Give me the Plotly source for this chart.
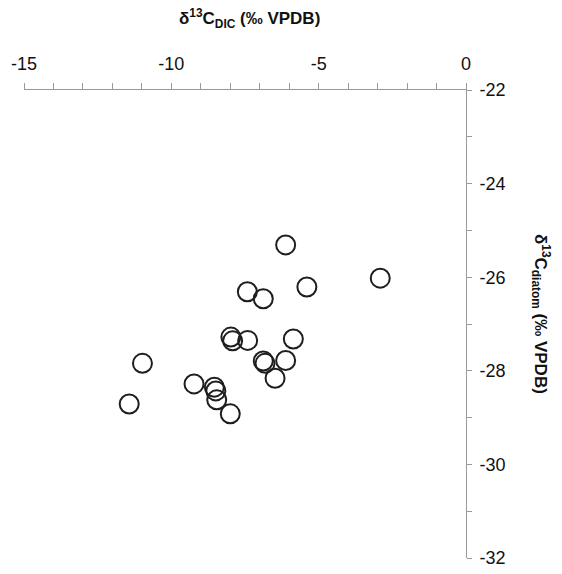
import plotly.graph_objects as go

# Carbon isotope pairs: DIC vs diatom-bound organic carbon (‰ VPDB)
d13c_dic = [-6.12, -2.91, -5.40, -7.42, -6.88, -5.86, -7.98, -7.92, -7.41, -10.98,
            -6.88, -6.82, -6.12, -6.48, -9.23, -8.54, -8.49, -8.46, -8.00, -11.43]
d13c_diatom = [-25.31, -26.02, -26.21, -26.31, -26.46, -27.32, -27.28, -27.36, -27.35, -27.84,
               -27.79, -27.84, -27.78, -28.16, -28.28, -28.35, -28.43, -28.62, -28.92, -28.71]

x_ticks = [-15, -10, -5, 0]
y_ticks = [-22, -24, -26, -28, -30, -32]

FONT = "Liberation Sans, Arial, sans-serif"
AXIS_GREY = "#9a9a9a"

fig = go.Figure(
    go.Scatter(
        x=d13c_dic,
        y=d13c_diatom,
        mode="markers",
        marker=dict(symbol="circle-open", size=19, color="#1e1e1e", line=dict(width=2, color="#1e1e1e")),
        hoverinfo="x+y",
    )
)

fig.update_layout(
    width=562,
    height=574,
    margin=dict(l=24, r=96, t=90, b=16),
    paper_bgcolor="white",
    plot_bgcolor="white",
    showlegend=False,
    font=dict(family=FONT, color="#111111"),
    xaxis=dict(
        range=[-15, 0],
        side="top",
        automargin=False,
        tickvals=x_ticks,
        ticktext=[str(v) for v in x_ticks],
        ticks="outside",
        ticklen=6,
        tickwidth=1,
        tickcolor=AXIS_GREY,
        minor=dict(dtick=1, ticks="outside", ticklen=6, tickcolor=AXIS_GREY, showgrid=False),
        showline=True,
        linecolor=AXIS_GREY,
        linewidth=1,
        showgrid=False,
        zeroline=False,
        tickfont=dict(size=18, family=FONT, color="#111111"),
        ticklabelstandoff=6,
    ),
    yaxis=dict(
        range=[-32, -22],
        side="right",
        automargin=False,
        tickvals=y_ticks,
        ticktext=[str(v) for v in y_ticks],
        ticks="outside",
        ticklen=5,
        tickwidth=1,
        tickcolor=AXIS_GREY,
        minor=dict(dtick=1, ticks="outside", ticklen=5, tickcolor=AXIS_GREY, showgrid=False),
        showline=True,
        linecolor=AXIS_GREY,
        linewidth=1,
        showgrid=False,
        zeroline=False,
        tickfont=dict(size=18, family=FONT, color="#111111"),
        ticklabelstandoff=4,
    ),
    annotations=[
        dict(
            text="<b>δ<sup>13</sup>C<sub>DIC</sub> (‰ VPDB)</b>",
            xref="paper", yref="paper",
            x=0.511, y=1.152,
            xanchor="center", yanchor="middle",
            showarrow=False,
            font=dict(size=17, family=FONT, color="#111111"),
        ),
        dict(
            text="<b>δ<sup>13</sup>C<sub>diatom</sub> (‰ VPDB)</b>",
            xref="paper", yref="paper",
            x=1.169, y=0.522,
            xanchor="center", yanchor="middle",
            textangle=90,
            showarrow=False,
            font=dict(size=17, family=FONT, color="#111111"),
        ),
    ],
)

fig.write_html("out.html")
